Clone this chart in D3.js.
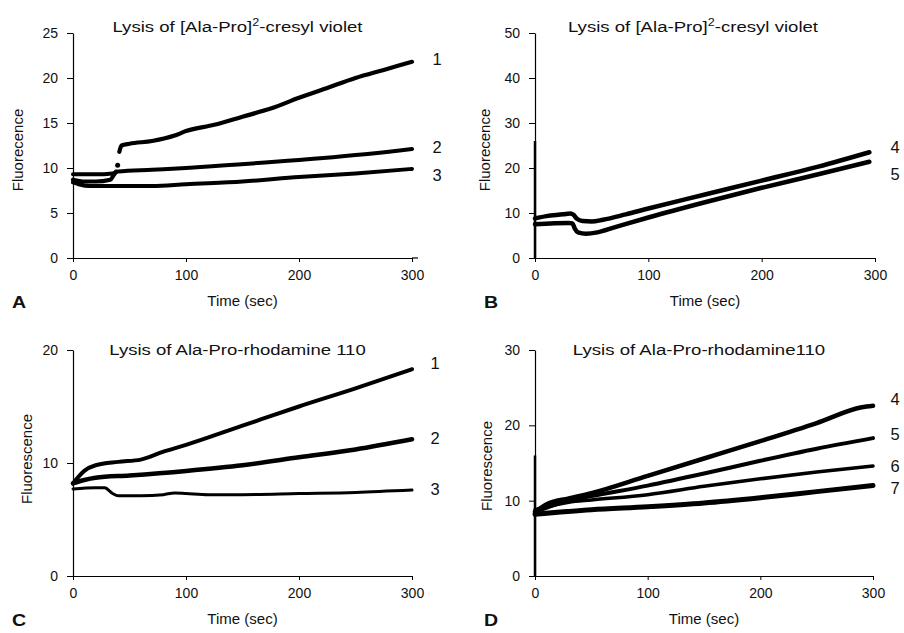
<!DOCTYPE html>
<html>
<head>
<meta charset="utf-8">
<script src="https://cdn.jsdelivr.net/npm/d3@7"></script>
<style>
  body { margin: 0; background: #fff; }
  text { font-family: "Liberation Sans", Arial, sans-serif; fill: #111; }
</style>
</head>
<body>
<div id="chart"></div>
<script>
// tick labels
var timeTicks = [0, 100, 200, 300];
var ticksA = [0, 5, 10, 15, 20, 25];
var ticksB = [0, 10, 20, 30, 40, 50];
var ticksC = [0, 10, 20];
var ticksD = [0, 10, 20, 30];

// panel A - [Ala-Pro]2-cresyl violet
var a1T = [0, 10, 20, 33, 36, 38, 39.5, 41, 43, 50, 70, 90, 100, 125, 150, 175, 200, 225, 250, 275, 300];
var a1Y = [8.7, 8.5, 8.5, 8.7, 9.2, 9.6, null, 11.8, 12.5, 12.7, 13.0, 13.6, 14.1, 14.8, 15.7, 16.6, 17.8, 18.9, 20.0, 20.9, 21.8];
var a1DotT = [39.5];
var a1DotY = [10.3];
var a2T = [0, 20, 35, 40, 70, 100, 135, 170, 200, 230, 265, 300];
var a2Y = [9.3, 9.3, 9.4, 9.6, 9.8, 10.0, 10.3, 10.6, 10.9, 11.2, 11.6, 12.1];
var a3T = [0, 5, 15, 40, 70, 100, 150, 200, 250, 300];
var a3Y = [8.4, 8.2, 8.0, 8.0, 8.0, 8.2, 8.5, 9.0, 9.4, 9.9];

// panel B
var b4T = [0, 10, 25, 31, 34, 37, 42, 50, 60, 80, 100, 150, 200, 250, 295];
var b4Y = [8.8, 9.3, 9.7, 9.9, 9.6, 8.7, 8.2, 8.1, 8.5, 9.7, 11.0, 14.1, 17.2, 20.3, 23.5];
var b5T = [0, 30, 33, 35, 38, 45, 55, 70, 100, 150, 200, 250, 295];
var b5Y = [7.5, 7.8, 7.7, 6.6, 5.7, 5.4, 5.7, 6.8, 9.0, 12.4, 15.6, 18.6, 21.4];
var bSpikeY = [0, 26];

// panel C - Ala-Pro-rhodamine 110
var c1T = [0, 5, 10, 20, 40, 60, 80, 100, 150, 200, 250, 300];
var c1Y = [8.2, 8.8, 9.3, 9.8, 10.1, 10.3, 11.0, 11.6, 13.3, 15.0, 16.6, 18.3];
var c2T = [0, 10, 20, 50, 100, 150, 200, 250, 300];
var c2Y = [8.2, 8.5, 8.7, 8.9, 9.3, 9.8, 10.5, 11.2, 12.1];
var c3T = [0, 20, 28, 35, 40, 60, 80, 90, 100, 120, 150, 200, 250, 300];
var c3Y = [7.7, 7.8, 7.8, 7.3, 7.1, 7.1, 7.2, 7.35, 7.3, 7.2, 7.2, 7.3, 7.4, 7.6];

// panel D
var d4T = [0, 10, 30, 50, 100, 150, 200, 250, 290, 300];
var d4Y = [8.5, 9.5, 10.3, 11.0, 13.3, 15.6, 17.9, 20.3, 22.4, 22.6];
var d5T = [0, 30, 50, 100, 150, 200, 250, 300];
var d5Y = [8.5, 10.0, 10.6, 12.0, 13.6, 15.3, 16.9, 18.3];
var d6T = [0, 30, 50, 100, 150, 200, 250, 300];
var d6Y = [8.8, 9.8, 10.1, 10.8, 11.9, 12.9, 13.8, 14.6];
var d7T = [0, 50, 100, 150, 200, 250, 300];
var d7Y = [8.2, 8.8, 9.2, 9.7, 10.4, 11.2, 12.0];
var dSpikeY = [0, 16];

// curve labels (name, y position in data units)
var labelsA = [['1', 22.1], ['2', 12.3], ['3', 9.2]];
var labelsB = [['4', 24.7], ['5', 18.7]];
var labelsC = [['1', 18.85], ['2', 12.2], ['3', 7.7]];
var labelsD = [['4', 23.5], ['5', 18.9], ['6', 14.6], ['7', 11.7]];

var chart_width = 904;
var chart_height = 633;
var svg = d3.select('#chart')
    .append('svg')
    .attr('width', chart_width)
    .attr('height', chart_height)

function zip(t, y) {
    return t.map(function (d, i) { return [d, y[i]]; });
}

function panel(opt) {
    var x_scale = d3.scaleLinear().domain([0, 300]).range([opt.x0, opt.x1]);
    var y_scale = d3.scaleLinear().domain([0, opt.ymax]).range([opt.yb, opt.yt]);
    var g = svg.append('g');

    // y axis
    var yAxis = g.append('g')
        .attr('transform', 'translate(' + opt.x0 + ',0)')
        .call(d3.axisLeft(y_scale).tickValues(opt.yticks).tickSizeInner(6).tickSizeOuter(0).tickPadding(9));
    // x axis
    var xAxis = g.append('g')
        .attr('transform', 'translate(0,' + opt.yb + ')')
        .call(d3.axisBottom(x_scale).tickValues(timeTicks).tickSizeInner(4).tickSizeOuter(0).tickPadding(8));
    [xAxis, yAxis].forEach(function (a) {
        a.select('.domain').attr('stroke', '#000').attr('stroke-width', 1.2);
        a.selectAll('.tick line').attr('stroke', '#000');
        a.selectAll('text').attr('font-size', 14).attr('fill', '#222')
            .style('font-family', '"Liberation Sans", Arial, sans-serif');
    });
    if (opt.xext) {
        g.append('line')
            .attr('x1', opt.x1).attr('x2', opt.x1 + opt.xext)
            .attr('y1', opt.yb).attr('y2', opt.yb)
            .attr('stroke', '#000').attr('stroke-width', 1.2);
    }

    var line = d3.line()
        .defined(function (d) { return d[1] != null; })
        .x(function (d) { return x_scale(d[0]); })
        .y(function (d) { return y_scale(d[1]); })
        .curve(d3.curveMonotoneX);

    if (opt.spike) {
        g.append('line')
            .attr('x1', x_scale(0)).attr('x2', x_scale(0))
            .attr('y1', y_scale(opt.spike[0])).attr('y2', y_scale(opt.spike[1]))
            .attr('stroke', '#000').attr('stroke-width', 2.5);
    }

    g.selectAll('path.series')
        .data(opt.series)
        .enter()
        .append('path')
        .attr('class', 'series')
        .attr('d', function (d) { return line(zip(d.t, d.y)); })
        .attr('fill', 'none')
        .attr('stroke', '#000')
        .attr('stroke-width', function (d) { return d.w; })
        .attr('stroke-linecap', 'round')
        .attr('stroke-linejoin', 'round');

    if (opt.dots) {
        g.selectAll('circle.dot')
            .data(opt.dots)
            .enter()
            .append('circle')
            .attr('cx', function (d) { return x_scale(d[0]); })
            .attr('cy', function (d) { return y_scale(d[1]); })
            .attr('r', 2.5)
            .attr('fill', '#000');
    }

    // curve labels
    g.selectAll('text.lab')
        .data(opt.labels)
        .enter()
        .append('text')
        .text(function (d) { return d[0]; })
        .attr('x', x_scale(300) + opt.labdx)
        .attr('y', function (d) { return y_scale(d[1]) + 6; })
        .attr('font-size', 16.5)
        .attr('text-anchor', 'middle');

    // title (the source figure is a bit wider than tall, so stretch to its width)
    var tg = g.append('g').attr('transform', 'translate(' + opt.tx + ',' + opt.ty + ')');
    var title = tg.append('text')
        .attr('font-size', 15.5)
        .attr('text-anchor', 'middle');
    opt.title.forEach(function (p) {
        var ts = title.append('tspan').text(p[0]);
        if (p[1]) ts.attr('font-size', 10.5).attr('dy', -6);
        else if (p[2]) ts.attr('dy', 6);
    });
    var tw = title.node().getBBox().width;
    title.attr('transform', 'scale(' + (opt.tw / tw) + ',1)');

    // axis titles
    g.append('text')
        .text('Time (sec)')
        .attr('x', (opt.x0 + opt.x1) / 2)
        .attr('y', opt.yb + 48)
        .attr('font-size', 15)
        .attr('text-anchor', 'middle');
    g.append('text')
        .text(opt.ylab)
        .attr('transform', 'translate(' + opt.ylx + ',' + opt.yly + ') rotate(-90)')
        .attr('dy', '0.35em')
        .attr('font-size', 15)
        .attr('text-anchor', 'middle');

    // panel letter
    g.append('text')
        .text(opt.letter)
        .attr('x', opt.lx)
        .attr('y', opt.yb + 50)
        .attr('font-size', 17)
        .attr('font-weight', 'bold')
        .attr('transform', 'translate(' + opt.lx + ',0) scale(1.15,1) translate(' + (-opt.lx) + ',0)');
}

panel({
    x0: 73, x1: 412, yb: 258, yt: 33, ymax: 25, yticks: ticksA, xext: 6,
    series: [{ t: a1T, y: a1Y, w: 4.2 }, { t: a2T, y: a2Y, w: 4 }, { t: a3T, y: a3Y, w: 4 }],
    dots: zip(a1DotT, a1DotY),
    labels: labelsA, labdx: 25,
    title: [['Lysis of [Ala-Pro]'], ['2', true], ['-cresyl violet', false, true]],
    tx: 237.5, ty: 32, tw: 251,
    ylab: 'Fluorecence', ylx: 18, yly: 150, letter: 'A', lx: 12
});

panel({
    x0: 535, x1: 875, yb: 258, yt: 33, ymax: 50, yticks: ticksB,
    series: [{ t: b4T, y: b4Y, w: 4.5 }, { t: b5T, y: b5Y, w: 4.5 }],
    spike: bSpikeY,
    labels: labelsB, labdx: 20,
    title: [['Lysis of [Ala-Pro]'], ['2', true], ['-cresyl violet', false, true]],
    tx: 693, ty: 32, tw: 251,
    ylab: 'Fluorecence', ylx: 485, yly: 150, letter: 'B', lx: 484
});

panel({
    x0: 73, x1: 412, yb: 576, yt: 350, ymax: 20, yticks: ticksC,
    series: [{ t: c1T, y: c1Y, w: 4 }, { t: c2T, y: c2Y, w: 4.5 }, { t: c3T, y: c3Y, w: 3 }],
    labels: labelsC, labdx: 23,
    title: [['Lysis of Ala-Pro-rhodamine 110']],
    tx: 237.5, ty: 355, tw: 257,
    ylab: 'Fluorescence', ylx: 27, yly: 459, letter: 'C', lx: 12
});

panel({
    x0: 535, x1: 873, yb: 576, yt: 350, ymax: 30, yticks: ticksD,
    series: [{ t: d4T, y: d4Y, w: 4.5 }, { t: d5T, y: d5Y, w: 4 }, { t: d6T, y: d6Y, w: 3.5 }, { t: d7T, y: d7Y, w: 5 }],
    spike: dSpikeY,
    labels: labelsD, labdx: 22,
    title: [['Lysis of Ala-Pro-rhodamine110']],
    tx: 699, ty: 355, tw: 253,
    ylab: 'Fluorescence', ylx: 487, yly: 466, letter: 'D', lx: 484
});
</script>
</body>
</html>
